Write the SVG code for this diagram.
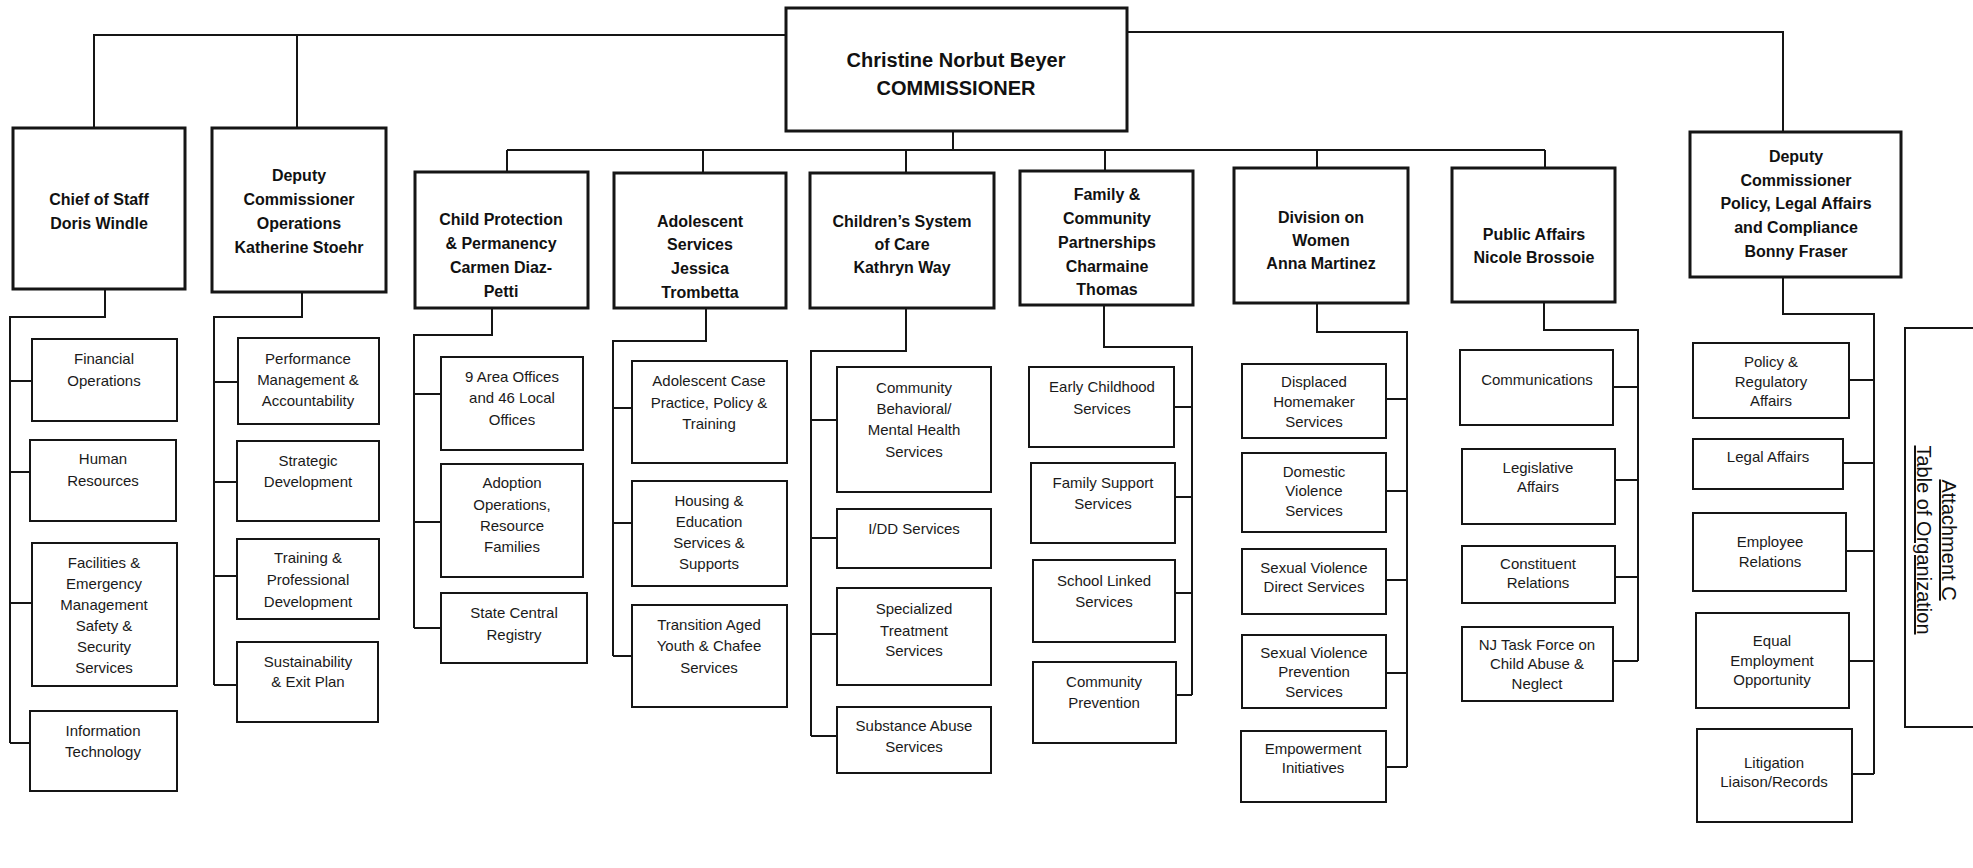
<svg xmlns="http://www.w3.org/2000/svg" width="1973" height="868" viewBox="0 0 1973 868">
<style>
.bg{fill:#fff}
.box{fill:#fff;stroke:#151515;stroke-width:2}
.head{fill:#fff;stroke:#151515;stroke-width:3}
.conn{fill:none;stroke:#151515;stroke-width:2}
.ht{font-family:"Liberation Sans",Arial,sans-serif;font-weight:bold;font-size:16px;text-anchor:middle;fill:#111}
.ct{font-family:"Liberation Sans",Arial,sans-serif;font-weight:bold;font-size:20px;text-anchor:middle;fill:#111}
.st{font-family:"Liberation Sans",Arial,sans-serif;font-size:15px;text-anchor:middle;fill:#1a1a1a}
.at{font-family:"Liberation Sans",Arial,sans-serif;font-size:20px;text-anchor:middle;fill:#111;text-decoration:underline}
</style>
<rect class="bg" x="0" y="0" width="1973" height="868"/>
<g id="connectors">
<path class="conn" d="M786,35 H94 V128 M297,35 V128 M1127,32 H1783 V132"/>
<path class="conn" d="M953,131 V150 M507,150 H1545 M507,150 V172 M703,150 V173 M906,150 V173 M1105,150 V171 M1317,150 V168 M1545,150 V168"/>
<path class="conn" d="M105,289 V317 H10 V743 M10,381 H32 M10,472 H30 M10,603 H32 M10,743 H30"/>
<path class="conn" d="M302,292 V317 H214 V685 M214,382 H238 M214,482 H237 M214,576 H237 M214,685 H237"/>
<path class="conn" d="M492,308 V335 H414 V628 M414,394 H441 M414,522 H441 M414,628 H441"/>
<path class="conn" d="M706,308 V341 H613 V656 M613,408 H632 M613,523 H632 M613,656 H632"/>
<path class="conn" d="M906,308 V351 H811 V736 M811,420 H837 M811,538 H837 M811,634 H837 M811,736 H837"/>
<path class="conn" d="M1104,305 V347 H1192 V695 M1174,407 H1192 M1175,497 H1192 M1175,593 H1192 M1176,695 H1192"/>
<path class="conn" d="M1317,303 V332 H1407 V767 M1386,399 H1407 M1386,491 H1407 M1386,580 H1407 M1386,673 H1407 M1386,767 H1407"/>
<path class="conn" d="M1544,302 V330 H1638 V661 M1613,387 H1638 M1615,480 H1638 M1615,577 H1638 M1613,661 H1638"/>
<path class="conn" d="M1783,277 V314 H1874 V774 M1849,380 H1874 M1843,463 H1874 M1846,551 H1874 M1849,661 H1874 M1852,774 H1874"/>
</g>
<g id="commissioner"><rect class="head" x="786" y="8" width="341" height="123"/>
<text class="ct" x="956" y="67">Christine Norbut Beyer</text><text class="ct" x="956" y="95">COMMISSIONER</text></g>
<g id="chief-of-staff"><rect class="head" x="13" y="128" width="172" height="161"/>
<text class="ht" x="99" y="205">Chief of Staff</text><text class="ht" x="99" y="229">Doris Windle</text></g>
<g id="deputy-operations"><rect class="head" x="212" y="128" width="174" height="164"/>
<text class="ht" x="299" y="181">Deputy</text><text class="ht" x="299" y="205">Commissioner</text><text class="ht" x="299" y="229">Operations</text><text class="ht" x="299" y="253">Katherine Stoehr</text></g>
<g id="deputy-policy"><rect class="head" x="1690" y="132" width="211" height="145"/>
<text class="ht" x="1796" y="162">Deputy</text><text class="ht" x="1796" y="186">Commissioner</text><text class="ht" x="1796" y="209">Policy, Legal Affairs</text><text class="ht" x="1796" y="233">and Compliance</text><text class="ht" x="1796" y="257">Bonny Fraser</text></g>
<g id="child-protection"><rect class="head" x="415" y="172" width="173" height="136"/>
<text class="ht" x="501" y="225">Child Protection</text><text class="ht" x="501" y="249">&amp; Permanency</text><text class="ht" x="501" y="273">Carmen Diaz-</text><text class="ht" x="501" y="297">Petti</text></g>
<g id="adolescent-services"><rect class="head" x="614" y="173" width="172" height="135"/>
<text class="ht" x="700" y="227">Adolescent</text><text class="ht" x="700" y="250">Services</text><text class="ht" x="700" y="274">Jessica</text><text class="ht" x="700" y="298">Trombetta</text></g>
<g id="childrens-system"><rect class="head" x="810" y="173" width="184" height="135"/>
<text class="ht" x="902" y="227">Children’s System</text><text class="ht" x="902" y="250">of Care</text><text class="ht" x="902" y="273">Kathryn Way</text></g>
<g id="family-community"><rect class="head" x="1020" y="171" width="173" height="134"/>
<text class="ht" x="1107" y="200">Family &amp;</text><text class="ht" x="1107" y="224">Community</text><text class="ht" x="1107" y="248">Partnerships</text><text class="ht" x="1107" y="272">Charmaine</text><text class="ht" x="1107" y="295">Thomas</text></g>
<g id="division-women"><rect class="head" x="1234" y="168" width="174" height="135"/>
<text class="ht" x="1321" y="223">Division on</text><text class="ht" x="1321" y="246">Women</text><text class="ht" x="1321" y="269">Anna Martinez</text></g>
<g id="public-affairs"><rect class="head" x="1452" y="168" width="163" height="134"/>
<text class="ht" x="1534" y="240">Public Affairs</text><text class="ht" x="1534" y="263">Nicole Brossoie</text></g>

<g id="financial-operations"><rect class="box" x="32" y="339" width="145" height="82"/><text class="st" x="104" y="364">Financial</text><text class="st" x="104" y="386">Operations</text></g>
<g id="human-resources"><rect class="box" x="30" y="440" width="146" height="81"/><text class="st" x="103" y="464">Human</text><text class="st" x="103" y="486">Resources</text></g>
<g id="facilities"><rect class="box" x="32" y="543" width="145" height="143"/><text class="st" x="104" y="568">Facilities &amp;</text><text class="st" x="104" y="589">Emergency</text><text class="st" x="104" y="610">Management</text><text class="st" x="104" y="631">Safety &amp;</text><text class="st" x="104" y="652">Security</text><text class="st" x="104" y="673">Services</text></g>
<g id="information-technology"><rect class="box" x="30" y="711" width="147" height="80"/><text class="st" x="103" y="736">Information</text><text class="st" x="103" y="757">Technology</text></g>

<g id="performance"><rect class="box" x="238" y="338" width="141" height="86"/><text class="st" x="308" y="364">Performance</text><text class="st" x="308" y="385">Management &amp;</text><text class="st" x="308" y="406">Accountability</text></g>
<g id="strategic"><rect class="box" x="237" y="441" width="142" height="80"/><text class="st" x="308" y="466">Strategic</text><text class="st" x="308" y="487">Development</text></g>
<g id="training"><rect class="box" x="237" y="539" width="142" height="80"/><text class="st" x="308" y="563">Training &amp;</text><text class="st" x="308" y="585">Professional</text><text class="st" x="308" y="607">Development</text></g>
<g id="sustainability"><rect class="box" x="237" y="642" width="141" height="80"/><text class="st" x="308" y="667">Sustainability</text><text class="st" x="308" y="687">&amp; Exit Plan</text></g>

<g id="area-offices"><rect class="box" x="441" y="357" width="142" height="93"/><text class="st" x="512" y="382">9 Area Offices</text><text class="st" x="512" y="403">and 46 Local</text><text class="st" x="512" y="425">Offices</text></g>
<g id="adoption"><rect class="box" x="441" y="464" width="142" height="113"/><text class="st" x="512" y="488">Adoption</text><text class="st" x="512" y="510">Operations,</text><text class="st" x="512" y="531">Resource</text><text class="st" x="512" y="552">Families</text></g>
<g id="state-central"><rect class="box" x="441" y="593" width="146" height="70"/><text class="st" x="514" y="618">State Central</text><text class="st" x="514" y="640">Registry</text></g>

<g id="adolescent-case"><rect class="box" x="632" y="361" width="155" height="102"/><text class="st" x="709" y="386">Adolescent Case</text><text class="st" x="709" y="408">Practice, Policy &amp;</text><text class="st" x="709" y="429">Training</text></g>
<g id="housing"><rect class="box" x="632" y="481" width="155" height="105"/><text class="st" x="709" y="506">Housing &amp;</text><text class="st" x="709" y="527">Education</text><text class="st" x="709" y="548">Services &amp;</text><text class="st" x="709" y="569">Supports</text></g>
<g id="transition"><rect class="box" x="632" y="605" width="155" height="102"/><text class="st" x="709" y="630">Transition Aged</text><text class="st" x="709" y="651">Youth &amp; Chafee</text><text class="st" x="709" y="673">Services</text></g>

<g id="community-behavioral"><rect class="box" x="837" y="367" width="154" height="125"/><text class="st" x="914" y="393">Community</text><text class="st" x="914" y="414">Behavioral/</text><text class="st" x="914" y="435">Mental Health</text><text class="st" x="914" y="457">Services</text></g>
<g id="idd"><rect class="box" x="837" y="509" width="154" height="59"/><text class="st" x="914" y="534">I/DD Services</text></g>
<g id="specialized"><rect class="box" x="837" y="588" width="154" height="97"/><text class="st" x="914" y="614">Specialized</text><text class="st" x="914" y="636">Treatment</text><text class="st" x="914" y="656">Services</text></g>
<g id="substance"><rect class="box" x="837" y="707" width="154" height="66"/><text class="st" x="914" y="731">Substance Abuse</text><text class="st" x="914" y="752">Services</text></g>

<g id="early-childhood"><rect class="box" x="1029" y="367" width="145" height="80"/><text class="st" x="1102" y="392">Early Childhood</text><text class="st" x="1102" y="414">Services</text></g>
<g id="family-support"><rect class="box" x="1031" y="463" width="144" height="80"/><text class="st" x="1103" y="488">Family Support</text><text class="st" x="1103" y="509">Services</text></g>
<g id="school-linked"><rect class="box" x="1033" y="560" width="142" height="82"/><text class="st" x="1104" y="586">School Linked</text><text class="st" x="1104" y="607">Services</text></g>
<g id="community-prevention"><rect class="box" x="1033" y="662" width="143" height="81"/><text class="st" x="1104" y="687">Community</text><text class="st" x="1104" y="708">Prevention</text></g>

<g id="displaced"><rect class="box" x="1242" y="364" width="144" height="74"/><text class="st" x="1314" y="387">Displaced</text><text class="st" x="1314" y="407">Homemaker</text><text class="st" x="1314" y="427">Services</text></g>
<g id="domestic"><rect class="box" x="1242" y="453" width="144" height="79"/><text class="st" x="1314" y="477">Domestic</text><text class="st" x="1314" y="496">Violence</text><text class="st" x="1314" y="516">Services</text></g>
<g id="sv-direct"><rect class="box" x="1242" y="549" width="144" height="65"/><text class="st" x="1314" y="573">Sexual Violence</text><text class="st" x="1314" y="592">Direct Services</text></g>
<g id="sv-prevention"><rect class="box" x="1242" y="635" width="144" height="73"/><text class="st" x="1314" y="658">Sexual Violence</text><text class="st" x="1314" y="677">Prevention</text><text class="st" x="1314" y="697">Services</text></g>
<g id="empowerment"><rect class="box" x="1241" y="731" width="145" height="71"/><text class="st" x="1313" y="754">Empowerment</text><text class="st" x="1313" y="773">Initiatives</text></g>

<g id="communications"><rect class="box" x="1460" y="350" width="153" height="75"/><text class="st" x="1537" y="385">Communications</text></g>
<g id="legislative"><rect class="box" x="1462" y="449" width="153" height="75"/><text class="st" x="1538" y="473">Legislative</text><text class="st" x="1538" y="492">Affairs</text></g>
<g id="constituent"><rect class="box" x="1462" y="546" width="153" height="57"/><text class="st" x="1538" y="569">Constituent</text><text class="st" x="1538" y="588">Relations</text></g>
<g id="nj-task-force"><rect class="box" x="1462" y="627" width="151" height="74"/><text class="st" x="1537" y="650">NJ Task Force on</text><text class="st" x="1537" y="669">Child Abuse &amp;</text><text class="st" x="1537" y="689">Neglect</text></g>

<g id="policy-regulatory"><rect class="box" x="1693" y="343" width="156" height="75"/><text class="st" x="1771" y="367">Policy &amp;</text><text class="st" x="1771" y="387">Regulatory</text><text class="st" x="1771" y="406">Affairs</text></g>
<g id="legal-affairs"><rect class="box" x="1693" y="439" width="150" height="50"/><text class="st" x="1768" y="462">Legal Affairs</text></g>
<g id="employee-relations"><rect class="box" x="1693" y="513" width="153" height="78"/><text class="st" x="1770" y="547">Employee</text><text class="st" x="1770" y="567">Relations</text></g>
<g id="equal-employment"><rect class="box" x="1696" y="613" width="153" height="95"/><text class="st" x="1772" y="646">Equal</text><text class="st" x="1772" y="666">Employment</text><text class="st" x="1772" y="685">Opportunity</text></g>
<g id="litigation"><rect class="box" x="1697" y="729" width="155" height="93"/><text class="st" x="1774" y="768">Litigation</text><text class="st" x="1774" y="787">Liaison/Records</text></g>

<g id="attachment">
<path class="conn" d="M1985,328 H1905 V727 H1985"/>
<g transform="translate(1942,540) rotate(90)">
<text class="at" x="0" y="0">Attachment C</text>
<text class="at" x="0" y="25">Table of Organization</text>
</g>
</g>
</svg>
